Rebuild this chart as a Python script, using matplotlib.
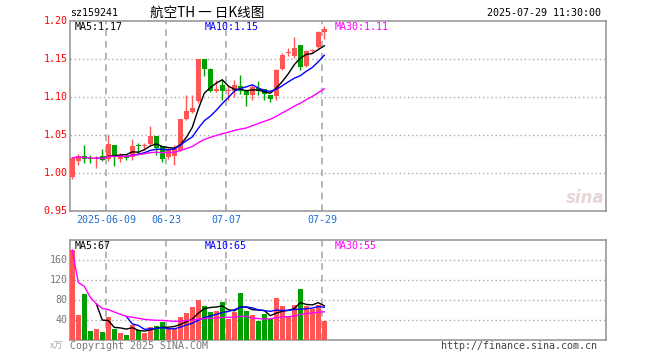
import numpy as np
import pandas as pd
import matplotlib
matplotlib.use("Agg")
import matplotlib.pyplot as plt

# daily K data for sz159241
OPEN = [0.9947, 1.0154, 1.0228, 1.0193, 1.0180, 1.0228, 1.0184, 1.0373, 1.0184, 1.0211,
        1.0211, 1.0373, 1.0360, 1.0386, 1.0490, 1.0360, 1.0211, 1.0228, 1.0307, 1.0715,
        1.0800, 1.0943, 1.1500, 1.1370, 1.1075, 1.1160, 1.1080, 1.1080, 1.1150, 1.1083,
        1.1020, 1.1120, 1.1105, 1.1030, 1.1017, 1.1368, 1.1580, 1.1535, 1.1690, 1.1410,
        1.1610, 1.1658, 1.1850]
CLOSE = [1.0197, 1.0228, 1.0184, 1.0184, 1.0186, 1.0167, 1.0386, 1.0211, 1.0241, 1.0197,
         1.0360, 1.0360, 1.0373, 1.0490, 1.0330, 1.0184, 1.0298, 1.0329, 1.0715, 1.0810,
         1.0855, 1.1500, 1.1370, 1.1080, 1.1110, 1.1075, 1.1085, 1.1160, 1.1075, 1.1020,
         1.1127, 1.1080, 1.1044, 1.0978, 1.1360, 1.1557, 1.1590, 1.1645, 1.1400, 1.1610,
         1.1615, 1.1850, 1.1895]
HIGH = [1.0210, 1.0250, 1.0373, 1.0240, 1.0220, 1.0320, 1.0496, 1.0373, 1.0260, 1.0240,
        1.0450, 1.0400, 1.0400, 1.0614, 1.0490, 1.0360, 1.0340, 1.0370, 1.0715, 1.1030,
        1.1030, 1.1500, 1.1500, 1.1380, 1.1230, 1.1230, 1.1140, 1.1230, 1.1290, 1.1083,
        1.1160, 1.1206, 1.1105, 1.1030, 1.1370, 1.1580, 1.1645, 1.1790, 1.1690, 1.1620,
        1.1630, 1.1864, 1.1940]
LOW = [0.9920, 1.0100, 1.0132, 1.0130, 1.0060, 1.0154, 1.0154, 1.0096, 1.0150, 1.0175,
       1.0175, 1.0240, 1.0300, 1.0373, 1.0240, 1.0140, 1.0180, 1.0100, 1.0285, 1.0700,
       1.0790, 1.0920, 1.1280, 1.1060, 1.1060, 1.0956, 1.0965, 1.1000, 1.1040, 1.0886,
       1.0965, 1.1030, 1.0965, 1.0940, 1.0965, 1.1360, 1.1544, 1.1510, 1.1350, 1.1400,
       1.1580, 1.1640, 1.1760]
VOL = [180, 50, 92, 19, 22, 16, 46, 23, 14, 10, 30, 20, 15, 26, 28, 37, 22, 22, 46, 54,
       66, 80, 68, 57, 59, 77, 42, 57, 95, 59, 50, 39, 52, 43, 85, 68, 48, 70, 102, 68,
       63, 70, 39]

TICK_DATES = ["2025-06-09", "2025-06-23", "2025-07-07", "2025-07-29"]
TICK_LABELS = ["2025-06-09", "06-23", "07-07", "07-29"]
PRICE_TICKS = [1.20, 1.15, 1.10, 1.05, 1.00, 0.95]
VOL_TICKS = [160, 120, 80, 40]

PRICE_MA_TEXT = ["MA5:1.17", "MA10:1.15", "MA30:1.11"]
VOL_MA_TEXT = ["MA5:67", "MA10:65", "MA30:55"]

dates = pd.bdate_range("2025-05-29", "2025-07-29")
dates = dates[dates != pd.Timestamp("2025-06-02")]  # dragon boat holiday
dates = [d.strftime("%Y-%m-%d") for d in dates]

df = pd.DataFrame(dict(open=OPEN, close=CLOSE, high=HIGH, low=LOW, vol=VOL))
ma5 = df.close.rolling(5).mean()
ma10 = df.close.rolling(10).mean()
ma30 = df.close.rolling(30, min_periods=1).mean()
vma5 = df.vol.rolling(5).mean()
vma10 = df.vol.rolling(10).mean()
vma30 = df.vol.rolling(30, min_periods=1).mean()

RED = "#ff5555"
GREEN = "#00a000"
GRID = "#aaaaaa"
FRAME = "#999999"
MONO = "DejaVu Sans Mono"

W, H = 660, 360
fig = plt.figure(figsize=(6.6, 3.6), dpi=100)


def rect(x0, y0, x1, y1):
    return [x0 / W, 1 - y1 / H, (x1 - x0) / W, (y1 - y0) / H]


# 6 px per candle, first candle centre at x=72.3
step = 6.0
x_left, x_right = 70, 606
xlim = ((x_left - 72.3) / step, (x_right - 72.3) / step)

ax = fig.add_axes(rect(x_left, 21, x_right, 211))
axv = fig.add_axes(rect(x_left, 240, x_right, 340))

n = len(df)
xs = np.arange(n)
up = df.close >= df.open
colors = np.where(up, RED, GREEN)
bw = 5 / 6

# candles
ax.vlines(xs, df.low, df.high, colors=colors, lw=1, zorder=3)
body = (df.close - df.open).abs().clip(lower=0.0014)
bottom = np.minimum(df.open, df.close)
ax.bar(xs, body, bottom=bottom, width=bw, color=colors, lw=0, zorder=4)

ax.plot(xs, ma5, color="black", lw=1, zorder=5)
ax.plot(xs, ma10, color="blue", lw=1, zorder=5)
ax.plot(xs, ma30, color="magenta", lw=1, zorder=5)

# volume
axv.bar(xs, df.vol, width=bw, color=colors, lw=0, zorder=3)
axv.plot(xs, vma5, color="black", lw=1, zorder=5)
axv.plot(xs, vma10, color="blue", lw=1, zorder=5)
axv.plot(xs, vma30, color="magenta", lw=1, zorder=5)

tick_idx = [dates.index(d) for d in TICK_DATES]

for a in (ax, axv):
    a.set_xlim(*xlim)
    a.set_xticks([])
    a.set_yticks([])
    for s in a.spines.values():
        s.set_color(FRAME)
        s.set_linewidth(1.2)
    for i in tick_idx:
        a.axvline(i - 1 / 3, color=GRID, lw=1.2, ls=(0, (4, 3)), zorder=1)

ax.set_ylim(0.95, 1.20)
axv.set_ylim(0, 200)

for p in PRICE_TICKS:
    if 0.95 < p < 1.20:
        ax.axhline(p, color=GRID, lw=1, ls=(0, (1, 2)), zorder=1)
    ax.text(-0.005, p, f"{p:.2f}", transform=ax.get_yaxis_transform(),
            ha="right", va="center", color="red", fontsize=7.2, family=MONO)

for v in VOL_TICKS:
    axv.axhline(v, color=GRID, lw=1, ls=(0, (1, 2)), zorder=1)
    axv.text(-0.005, v, str(v), transform=axv.get_yaxis_transform(),
             ha="right", va="center", color="#777777", fontsize=7.2, family=MONO)

for i, lab in zip(tick_idx, TICK_LABELS):
    ax.text(i - 1 / 3, -0.045, lab, transform=ax.get_xaxis_transform(),
            ha="center", va="center", color="#1e6fd0", fontsize=7.2, family=MONO)

# MA legends inside panels
ma_colors = ["black", "blue", "magenta"]
for xpix, t, c in zip([75, 205, 335], PRICE_MA_TEXT, ma_colors):
    fig.text(xpix / W, 1 - 27 / H, t, color=c, fontsize=7.2, family=MONO,
             ha="left", va="center")
for xpix, t, c in zip([75, 205, 335], VOL_MA_TEXT, ma_colors):
    fig.text(xpix / W, 1 - 246 / H, t, color=c, fontsize=7.2, family=MONO,
             ha="left", va="center")

# header
fig.text(70 / W, 1 - 13 / H, "sz159241", fontsize=7.2, family=MONO, ha="left", va="center")
fig.text(150 / W, 1 - 13 / H, "航空TH 一 日K线图", fontsize=9.8,
         family=["Noto Sans CJK SC", "DejaVu Sans"], ha="left", va="center")
fig.text(601 / W, 1 - 13 / H, "2025-07-29 11:30:00", fontsize=7.2, family=MONO,
         ha="right", va="center")

# footer
fig.text(50 / W, 1 - 346 / H, "x万", fontsize=6.5, color="#aaaaaa",
         family=["Noto Sans CJK SC", "DejaVu Sans"], ha="left", va="center")
fig.text(70 / W, 1 - 346 / H, "Copyright 2025 SINA.COM", fontsize=7.2, color="#777777",
         family=MONO, ha="left", va="center")
fig.text(597 / W, 1 - 346 / H, "http://finance.sina.com.cn", fontsize=7.2, color="#444444",
         family=MONO, ha="right", va="center")

# watermark
fig.text(585 / W, 1 - 198 / H, "sina", fontsize=12, color="#e6d6d6", style="italic",
         weight="bold", ha="center", va="center")

fig.savefig("out.png", dpi=100)
